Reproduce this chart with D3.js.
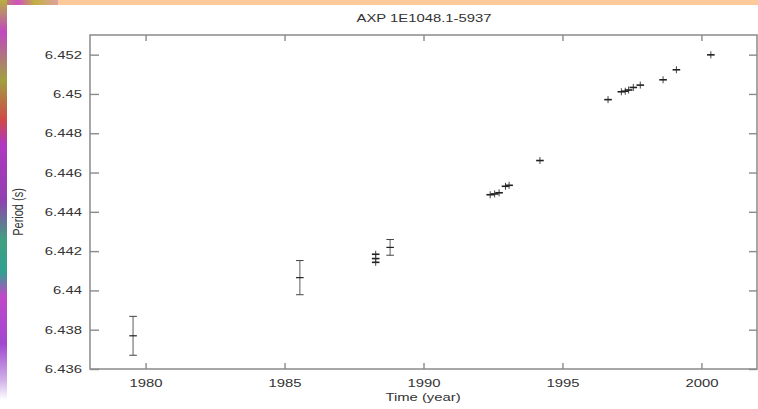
<!DOCTYPE html>
<html>
<head>
<meta charset="utf-8">
<script src="https://cdn.jsdelivr.net/npm/d3@7"></script>
<style>
  html, body { margin: 0; padding: 0; background: #fff; }
  svg { display: block; }
  text { font-family: "Liberation Sans", Arial, sans-serif; fill: #333; }
</style>
</head>
<body>
<svg id="chart" width="758" height="409"></svg>
<script>
// ---- data ----
const title = "AXP 1E1048.1-5937";
const xLabel = "Time (year)";
const yLabel = "Period (s)";
const years = [1979.55, 1985.55, 1988.28, 1988.28, 1988.28, 1988.80,
  1992.40, 1992.56, 1992.72, 1992.95, 1993.08, 1994.19,
  1996.64, 1997.12, 1997.26, 1997.38, 1997.55, 1997.80, 1998.62, 1999.10, 2000.34];
const periods = [6.43769, 6.44065, 6.44184, 6.44162, 6.44143, 6.44219,
  6.44487, 6.44491, 6.44497, 6.44530, 6.44535, 6.44661,
  6.44971, 6.45011, 6.45014, 6.45020, 6.45033, 6.45045, 6.45072, 6.45123, 6.45199];
const errors = [0.00099, 0.00087, 0.00006, 0.00006, 0.00006, 0.00040,
  0.00004, 0.00004, 0.00004, 0.00004, 0.00004, 0.00004,
  0.00004, 0.00004, 0.00004, 0.00004, 0.00004, 0.00004, 0.00004, 0.00004, 0.00004];
const xTicks = [1980, 1985, 1990, 1995, 2000];
const xTickLabels = ["1980", "1985", "1990", "1995", "2000"];
const yTicks = [6.436, 6.438, 6.440, 6.442, 6.444, 6.446, 6.448, 6.450, 6.452];
const yTickLabels = ["6.436", "6.438", "6.44", "6.442", "6.444", "6.446", "6.448", "6.45", "6.452"];

// ---- layout ----
const svg = d3.select("#chart");
const L = 90, R = 757, T = 35, B = 369;
const SX = 1.35; // horizontal stretch of text seen in the reference
const x = d3.scaleLinear().domain([1978, 2002]).range([L, R]);
const y = d3.scaleLinear().domain([6.436, 6.453]).range([B, T]);

// decorative strips at the edges
const defs = svg.append("defs");
const g1 = defs.append("linearGradient").attr("id", "leftStrip").attr("x1", 0).attr("y1", 0).attr("x2", 0).attr("y2", 1);
[[0, "#b8b040"], [0.08, "#c048c0"], [0.2, "#a0a040"], [0.3, "#d04848"], [0.36, "#b038c0"],
 [0.5, "#9040b0"], [0.6, "#40a080"], [0.68, "#30a090"], [0.74, "#c048c8"], [0.86, "#a048d0"],
 [0.95, "#d0b0e8"], [1, "#ffffff"]].forEach(([o, c]) => g1.append("stop").attr("offset", o).attr("stop-color", c));
const g2 = defs.append("linearGradient").attr("id", "topStrip").attr("x1", 0).attr("y1", 0).attr("x2", 1).attr("y2", 0);
[[0, "#b0a040"], [0.3, "#d050c0"], [0.6, "#c0b040"], [1, "#e0a0a0"]].forEach(([o, c]) => g2.append("stop").attr("offset", o).attr("stop-color", c));
svg.append("rect").attr("x", 58).attr("y", 0).attr("width", 700).attr("height", 5).attr("fill", "#fdc99a");
svg.append("rect").attr("x", 0).attr("y", 0).attr("width", 58).attr("height", 5).attr("fill", "url(#topStrip)");
svg.append("rect").attr("x", 0).attr("y", 0).attr("width", 7).attr("height", 400).attr("fill", "url(#leftStrip)");

// ---- axes ----
const axisColor = "#8a8a8a";
function styleAxis(g) {
  g.select(".domain").remove();
  g.selectAll(".tick line").attr("stroke", axisColor).attr("stroke-width", 1.4);
}
svg.append("g").attr("transform", `translate(0,${B})`)
  .call(d3.axisBottom(x).tickValues(xTicks).tickFormat((d, i) => xTickLabels[i]).tickSizeInner(-6).tickSizeOuter(0).tickPadding(10))
  .call(styleAxis)
  .call(g => g.selectAll(".tick text").attr("font-size", 11).attr("fill", "#333")
      .attr("transform", `scale(${SX},1)`).attr("font-family", "Liberation Sans, Arial, sans-serif"));
svg.append("g").attr("transform", `translate(0,${T})`)
  .call(d3.axisTop(x).tickValues(xTicks).tickFormat("").tickSizeInner(-6).tickSizeOuter(0))
  .call(styleAxis);
svg.append("g").attr("transform", `translate(${L},0)`)
  .call(d3.axisLeft(y).tickValues(yTicks).tickFormat((d, i) => yTickLabels[i]).tickSizeInner(-9).tickSizeOuter(0).tickPadding(0))
  .call(styleAxis)
  .call(g => g.selectAll(".tick text").attr("font-size", 11).attr("fill", "#333")
      .attr("x", -6).attr("transform", `scale(${SX},1)`).attr("font-family", "Liberation Sans, Arial, sans-serif"));
svg.append("g").attr("transform", `translate(${R},0)`)
  .call(d3.axisRight(y).tickValues(yTicks).tickFormat("").tickSizeInner(-8).tickSizeOuter(0))
  .call(styleAxis);

// frame
svg.append("rect").attr("x", L).attr("y", T).attr("width", R - L).attr("height", B - T)
  .attr("fill", "none").attr("stroke", axisColor).attr("stroke-width", 1.5);

// ---- data points with error bars ----
const pts = years.map((yr, i) => ({ yr, p: periods[i], e: errors[i] }));
const marks = svg.append("g");
const capW = 3.8;
pts.forEach(d => {
  const cx = x(d.yr), cy = y(d.p);
  const top = Math.min(y(d.p + d.e), cy - 3.5), bot = Math.max(y(d.p - d.e), cy + 3.5);
  const big = d.e >= 0.0002;
  marks.append("line").attr("x1", cx).attr("x2", cx).attr("y1", top).attr("y2", bot)
    .attr("stroke", big ? "#9a9a9a" : "#444").attr("stroke-width", big ? 1.6 : 1);
  marks.append("line").attr("x1", cx - capW).attr("x2", cx + capW).attr("y1", cy).attr("y2", cy)
    .attr("stroke", "#222").attr("stroke-width", big ? 1.2 : 1.6);
  if (big) {
    [top, bot].forEach(v => marks.append("line").attr("x1", cx - capW).attr("x2", cx + capW)
      .attr("y1", v).attr("y2", v).attr("stroke", "#444").attr("stroke-width", 1));
  }
});

// ---- titles ----
function stretchedText(tx, ty, txt, size, rotate) {
  const g = svg.append("g").attr("transform", `translate(${tx},${ty})` + (rotate ? " rotate(-90)" : ""));
  g.append("text").attr("text-anchor", "middle").attr("dominant-baseline", "central")
    .attr("font-size", size).attr("fill", "#333")
    .attr("transform", rotate ? "scale(1,1.35)" : `scale(${SX},1)`).text(txt);
}
stretchedText(424, 18, title, 11, false);
stretchedText(423, 397, xLabel, 11, false);
stretchedText(18, 212, yLabel, 11, true);
</script>
</body>
</html>
